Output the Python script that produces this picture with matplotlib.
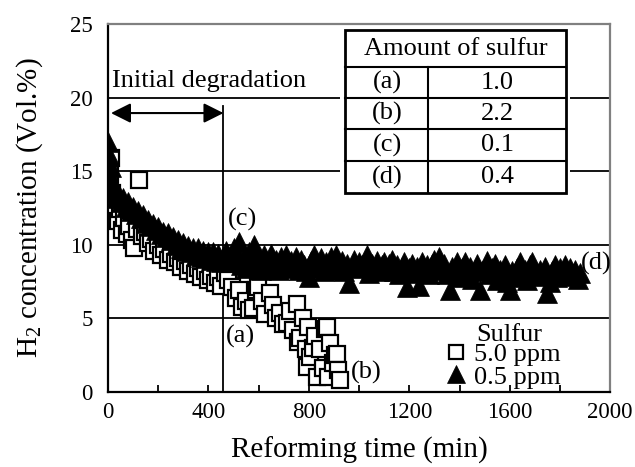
import matplotlib
matplotlib.use("Agg")
import matplotlib.pyplot as plt
from matplotlib.patches import Rectangle
from matplotlib.lines import Line2D

plt.rcParams['font.family'] = ['Liberation Serif', 'DejaVu Serif']
plt.rcParams['mathtext.fontset'] = 'custom'
plt.rcParams['mathtext.rm'] = 'Liberation Serif'
plt.rcParams['mathtext.it'] = 'Liberation Serif:italic'

# 5.0 ppm sulfur (open squares)
sq_t = [3, 8, 12, 18, 25, 32, 40, 48, 56, 65, 75, 85, 95, 105, 115, 124, 135, 148, 160, 172,
        185, 198, 212, 225, 238, 252, 265, 278, 292, 305, 318, 332, 345, 358, 372, 385, 398, 412,
        425, 438, 452, 466, 480, 494, 508, 520, 534, 548, 562, 578, 590, 598, 612, 625, 645, 658,
        670, 685, 698, 712, 725, 738, 752, 756, 765, 778, 790, 793, 797, 805, 815, 825, 832, 845,
        855, 865, 872, 876, 884, 895, 904, 912, 918, 924]
sq_h2 = [15.4, 14.8, 15.9, 13.5, 12.8, 12.1, 11.6, 12.4, 11.0, 11.8, 10.7, 11.3, 10.3, 9.8, 11.1,
         14.4, 10.6, 10.9, 10.1, 10.4, 9.6, 10.0, 9.3, 9.7, 9.0, 9.4, 8.8, 9.1, 8.5, 8.9, 8.2, 8.6,
         8.0, 8.4, 7.8, 8.2, 7.6, 7.9, 7.4, 7.8, 7.2, 8.1, 7.6, 7.1, 6.4, 6.9, 5.8, 6.2, 5.6, 5.7,
         6.9, 7.1, 6.2, 5.3, 6.7, 5.9, 5.0, 5.4, 4.6, 4.7, 5.5, 4.2, 6.0, 3.4, 3.7, 5.0, 2.9, 1.7,
         4.4, 2.4, 3.0, 3.8, 1.0, 2.9, 1.6, 4.3, 4.4, 1.0, 3.3, 2.0, 2.5, 2.6, 1.5, 0.8]

# 0.5 ppm sulfur (filled triangles)
tri_t = [0, 0, 4, 8, 12, 18, 24, 30, 40, 50, 60, 70, 80, 90,
         100, 110, 120, 130, 140, 150, 160, 170, 180, 190, 200, 210, 220, 230, 240, 250,
         260, 270, 280, 290, 300, 310, 320, 330, 340, 350, 360, 370, 380, 390, 400, 410,
         420, 430, 440, 450, 460, 470, 480, 490, 500,
         510, 520, 530, 540, 550, 560, 570, 580, 590, 600,
         610, 620, 630, 640, 650, 660, 670, 680, 690, 700,
         710, 720, 730, 740, 750, 760, 770, 780, 790, 800,
         810, 820, 830, 840, 850, 860, 870, 880, 890, 900,
         910, 920, 930, 940, 950, 960, 970, 980, 990, 1000,
         1010, 1020, 1030, 1040, 1050, 1060, 1070, 1080, 1090, 1100,
         1110, 1120, 1130, 1140, 1150, 1160, 1170, 1180, 1190, 1200,
         1210, 1220, 1230, 1240, 1250, 1260, 1270, 1280, 1290, 1300,
         1310, 1320, 1330, 1340, 1350, 1360, 1370, 1380, 1390, 1400,
         1410, 1420, 1430, 1440, 1450, 1460, 1470, 1480, 1490, 1500,
         1510, 1520, 1530, 1540, 1550, 1560, 1570, 1580, 1590, 1600,
         1610, 1620, 1630, 1640, 1650, 1660, 1670, 1680, 1690, 1700,
         1710, 1720, 1730, 1740, 1750, 1760, 1770, 1780, 1790, 1800,
         1810, 1820, 1830, 1840, 1850, 1860, 1870, 1880]
tri_h2 = [17.0, 15.0, 16.1, 14.6, 15.3, 14.0, 13.6, 13.2, 13.5, 12.9, 13.2, 12.6, 12.9, 12.3,
          12.6, 12.1, 12.3, 11.8, 12.0, 11.5, 11.7, 11.3, 11.4, 11.0, 11.2, 10.7, 10.9, 10.5, 10.8, 10.3,
          10.5, 10.0, 10.3, 9.8, 10.1, 9.6, 9.9, 9.5, 9.8, 9.3, 9.8, 9.2, 9.6, 9.1, 9.5, 9.0,
          9.5, 8.9, 9.4, 8.8, 9.2, 9.6, 8.9, 9.3, 9.8,
          9.0, 10.2, 8.6, 9.2, 8.4, 9.5, 8.7, 10.0, 8.5, 9.1,
          8.3, 9.3, 8.8, 8.4, 9.4, 8.6, 9.0, 8.3, 9.2, 8.7,
          9.3, 8.4, 8.9, 8.5, 9.2, 8.3, 9.0, 8.6, 8.2, 7.8,
          8.9, 9.3, 8.4, 8.7, 9.1, 8.2, 8.8, 8.5, 9.2, 8.3,
          9.3, 8.6, 8.9, 8.2, 8.7, 7.4, 8.5, 9.0, 8.4, 8.8,
          8.6, 8.5, 9.3, 8.1, 8.7, 8.4, 8.9, 8.2, 8.6, 8.8,
          8.3, 8.7, 9.0, 8.2, 8.6, 8.0, 8.5, 8.8, 7.1, 8.4,
          8.7, 8.1, 8.5, 7.2, 8.8, 8.3, 8.6, 8.0, 8.7, 9.0,
          8.6, 9.2, 8.3, 8.7, 8.0, 6.9, 8.5, 8.2, 8.8, 7.8,
          8.4, 8.8, 8.0, 8.5, 7.7, 8.3, 8.7, 6.9, 8.2, 8.5,
          8.9, 8.0, 8.4, 8.7, 7.6, 8.3, 8.1, 8.6, 7.5, 6.9,
          8.2, 7.8, 8.4, 8.8, 8.0, 8.3, 7.6, 8.6, 8.8, 8.2,
          7.9, 8.3, 8.0, 8.5, 6.7, 7.5, 8.2, 8.6, 7.8, 8.4,
          8.1, 8.6, 7.9, 8.4, 8.0, 8.3, 7.7, 8.1]

table_rows = ['(a)', '(b)', '(c)', '(d)']
table_vals = ['1.0', '2.2', '0.1', '0.4']

FS = 19

fig = plt.figure(figsize=(6.35, 4.67), dpi=100)
ax = fig.add_axes([0.170, 0.1606, 0.791, 0.788])

ax.set_xlim(0, 2000)
ax.set_ylim(0, 25)

for yy in [5, 10, 15, 20]:
    ax.axhline(yy, color='black', lw=1.3, zorder=1)

sq_line, = ax.plot(sq_t, sq_h2, linestyle='none', marker='s', ms=12, mfc='white',
                   mec='black', mew=1.6, zorder=3)
tri_line, = ax.plot(tri_t, tri_h2, linestyle='none', marker='^', ms=14.5, mfc='black',
                    mec='black', mew=0.5, zorder=4)

# initial degradation marker
ax.plot([460, 460], [0, 19.4], color='black', lw=1.3, zorder=2)
ax.annotate('', xy=(12, 18.95), xytext=(460, 18.95),
            arrowprops=dict(arrowstyle='<|-|>', mutation_scale=30, lw=1.5,
                            color='black', shrinkA=0, shrinkB=0))
ax.text(15, 21.1, 'Initial degradation', fontsize=FS, va='center', ha='left')

# table
tr = ax.transAxes
def fx(px):
    return (px - 108) / 502.0
def fy(py):
    return (392 - py) / 368.0

ax.add_patch(Rectangle((fx(340), fy(196)), fx(570) - fx(340), fy(27) - fy(196),
                       transform=tr, facecolor='white', edgecolor='none', zorder=5))
ax.add_patch(Rectangle((fx(345), fy(193)), fx(566) - fx(345), fy(30) - fy(193),
                       transform=tr, facecolor='white', edgecolor='black', lw=2, zorder=6))
row_edges = [67, 98, 129, 161, 193]
for py in row_edges[:-1]:
    ax.add_line(Line2D([fx(345), fx(566)], [fy(py), fy(py)], transform=tr,
                       color='black', lw=1.5, zorder=7))
ax.add_line(Line2D([fx(428), fx(428)], [fy(67), fy(193)], transform=tr,
                   color='black', lw=1.5, zorder=7))
ax.text(fx(455.5), fy(49), 'Amount of sulfur', transform=tr, fontsize=FS,
        ha='center', va='center', zorder=8)
for i, (lab, val) in enumerate(zip(table_rows, table_vals)):
    yc = (row_edges[i] + row_edges[i + 1]) / 2.0
    ax.text(fx(387), fy(yc), lab, transform=tr, fontsize=FS, ha='center',
            va='center', zorder=8)
    ax.text(fx(497), fy(yc), val, transform=tr, fontsize=FS, ha='center',
            va='center', zorder=8)

# curve labels
ax.text(534, 11.75, '(c)', fontsize=FS, ha='center', va='center', zorder=6)
ax.text(526, 3.8, '(a)', fontsize=FS, ha='center', va='center', zorder=6)
ax.text(1028, 1.36, '(b)', fontsize=FS, ha='center', va='center', zorder=6)
ax.text(1944, 8.7, '(d)', fontsize=FS, ha='center', va='center', zorder=6, clip_on=False)

# legend
ax.text(fx(476), fy(335), 'Sulfur', transform=tr, fontsize=FS, ha='left', va='center')
ax.legend([sq_line, tri_line], ['5.0 ppm', '0.5 ppm'], loc='upper left',
          bbox_to_anchor=(fx(447), fy(343)), frameon=False, fontsize=FS,
          handlelength=0.7, handletextpad=0.3, labelspacing=-0.05, borderpad=0,
          borderaxespad=0, markerscale=0.85)

# axes styling
for s in ['left', 'bottom']:
    ax.spines[s].set_linewidth(1.6)
    ax.spines[s].set_color('black')
for s in ['top', 'right']:
    ax.spines[s].set_linewidth(1.6)
    ax.spines[s].set_color('#808080')

ax.set_xticks([0, 400, 800, 1200, 1600, 2000])
ax.set_xticks([200, 600, 1000, 1400, 1800], minor=True)
ax.set_yticks([0, 5, 10, 15, 20, 25])
ax.tick_params(axis='x', which='both', direction='in', length=5, width=1.3,
               labelsize=16.5, pad=7)
ax.tick_params(axis='y', which='both', length=0, labelsize=16.5, pad=11)

ax.set_xlabel('Reforming time (min)', fontsize=21, labelpad=10)
ax.set_ylabel('H$_2$ concentration (Vol.%)', fontsize=21, labelpad=18)

fig.savefig('out.png', dpi=100)
